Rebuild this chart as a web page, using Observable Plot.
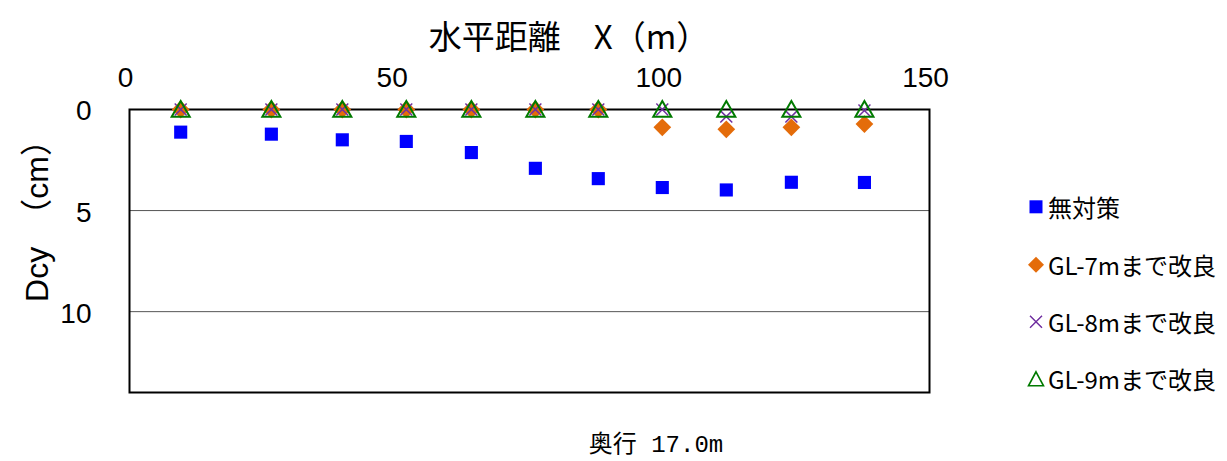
<!DOCTYPE html>
<html>
<head>
<meta charset="utf-8">
<script src="https://cdn.jsdelivr.net/npm/d3@7"></script>
<script src="https://cdn.jsdelivr.net/npm/@observablehq/plot@0.6"></script>
<style>
  html, body { margin: 0; padding: 0; background: #fff; }
  #wrap { position: relative; width: 1227px; height: 461px; overflow: hidden; }
  #wrap svg.plot { position: absolute; left: 0; top: 0; }
  .title { position: absolute; left: 569px; top: 35px; transform: translate(-50%, -50%); line-height: 1.1;
           font-family: "Noto Sans CJK JP", sans-serif; font-size: 33px; white-space: nowrap; color: #000; }
  .ylabel { position: absolute; left: 38px; top: 213px; transform: translate(-50%, -50%) rotate(-90deg); line-height: 1.1;
            font-family: "Liberation Sans", "Noto Sans CJK JP", sans-serif; font-size: 32px; white-space: nowrap; color: #000; }
  .caption { position: absolute; left: 656px; top: 446px; transform: translate(-50%, -50%); line-height: 1;
             font-family: "Liberation Mono", "Noto Sans CJK JP", monospace; font-size: 24px; white-space: nowrap; color: #000; }
  .legend { position: absolute; left: 1027px; top: 0; font-family: "Noto Sans CJK JP", sans-serif; font-size: 24px; color: #000; line-height: 1.1; }
  .legend .item { position: absolute; left: 0; display: flex; align-items: center; white-space: nowrap; transform: translateY(-50%); }
  .legend svg { width: 18px; height: 18px; margin-right: 3px; }
</style>
</head>
<body>
<div id="wrap"></div>
<script>
// ---- data ----
const distances = [9.6, 26.6, 39.9, 51.9, 64.1, 76.1, 87.9, 99.9, 111.9, 124.1, 137.8];
const noMeasure = [1.12, 1.22, 1.50, 1.58, 2.13, 2.91, 3.42, 3.86, 3.98, 3.60, 3.61];
const gl7 = [0, 0, 0, 0, 0, 0, 0, 0.88, 0.98, 0.88, 0.72];
const gl8 = [0, 0, 0, 0, 0, 0, 0, 0, 0.35, 0.35, 0.05];
const gl9 = [0, 0, 0, 0, 0, 0, 0, 0, 0, 0, 0];
const seriesNames = ["無対策", "GL-7mまで改良", "GL-8mまで改良", "GL-9mまで改良"];
const xTicks = [0, 50, 100, 150];
const yTicks = [0, 5, 10];
const titleText = "水平距離　X（m）";
const yLabelText = "Dcy　（cm）";
const captionText = "奥行 17.0m";

const colors = ["#0000ff", "#e46c0a", "#7030a0", "#007a00"];
const toRows = (vals) => distances.map((x, i) => ({x, y: vals[i]}));

const plot = Plot.plot({
  width: 1227,
  height: 461,
  marginLeft: 129,
  marginRight: 298,
  marginTop: 109,
  marginBottom: 69,
  style: { fontFamily: "Liberation Sans, Arial, sans-serif", background: "transparent", color: "#000" },
  x: { domain: [0, 150] },
  y: { domain: [0, 14], reverse: true },
  marks: [
    Plot.gridY([5, 10], { stroke: "#555", strokeOpacity: 1, strokeWidth: 1 }),
    Plot.frame({ stroke: "#000", strokeWidth: 2 }),
    Plot.axisX(xTicks, { anchor: "top", tickSize: 0, tickPadding: 23, fontSize: 28, dx: -4, label: null }),
    Plot.axisY(yTicks, { anchor: "left", tickSize: 0, tickPadding: 38, fontSize: 28, dy: 2, label: null }),
    Plot.dot(toRows(noMeasure), { x: "x", y: "y", symbol: "square", r: 7.4, fill: colors[0], stroke: "none" }),
    Plot.dot(toRows(gl7), { x: "x", y: "y", symbol: "diamond2", r: 8, fill: colors[1], stroke: "none" }),
    Plot.dot(toRows(gl8), { x: "x", y: "y", symbol: "times", r: 5.5, stroke: colors[2], strokeWidth: 1.5, fill: "none" }),
    Plot.dot(toRows(gl9), { x: "x", y: "y", symbol: "triangle", r: 6.7, stroke: colors[3], strokeWidth: 2, fill: "none", dy: 2 })
  ]
});
plot.classList.add("plot");
const wrap = document.getElementById("wrap");
wrap.appendChild(plot);

const addDiv = (cls, text) => { const d = document.createElement("div"); d.className = cls; d.textContent = text; wrap.appendChild(d); return d; };
addDiv("title", titleText);
addDiv("ylabel", yLabelText);
addDiv("caption", captionText);

// legend
const legend = document.createElement("div");
legend.className = "legend";
const legendY = [207, 265, 322, 379];
const glyphs = [
  `<rect x="2.5" y="2.5" width="13" height="13" fill="${colors[0]}"/>`,
  `<path d="M9 1 L17 9 L9 17 L1 9 Z" fill="${colors[1]}"/>`,
  `<path d="M3 3 L15 15 M15 3 L3 15" stroke="${colors[2]}" stroke-width="1.5" fill="none"/>`,
  `<path d="M9 2 L16.5 16 L1.5 16 Z" stroke="${colors[3]}" stroke-width="1.6" fill="none"/>`
];
seriesNames.forEach((name, i) => {
  const it = document.createElement("div");
  it.className = "item";
  it.style.top = legendY[i] + "px";
  it.innerHTML = `<svg viewBox="0 0 18 18">${glyphs[i]}</svg><span></span>`;
  it.querySelector("span").textContent = name;
  legend.appendChild(it);
});
wrap.appendChild(legend);
</script>
</body>
</html>
